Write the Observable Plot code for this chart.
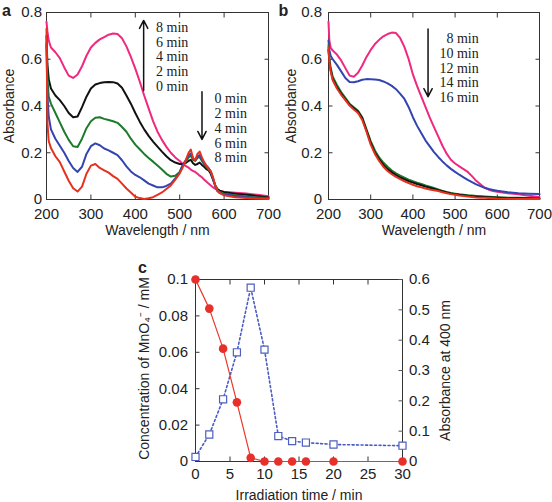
<!DOCTYPE html>
<html><head><meta charset="utf-8">
<script src="https://cdn.jsdelivr.net/npm/d3@7"></script>
<script src="https://cdn.jsdelivr.net/npm/@observablehq/plot@0.6"></script>
<style>
body{margin:0;background:#fff;}
#fig{position:relative;width:552px;height:502px;overflow:hidden;background:#fff;}
#fig > div{position:absolute;}
#fig svg{overflow:visible;background:transparent;}
</style></head><body>
<div id="fig"><div id="pa" style="left:0;top:0"></div><div id="pb" style="left:276px;top:0"></div><div id="pc" style="left:100px;top:250px"></div></div>
<script>
// ---------- Panel a data (0–8 min) ----------
const wlA = [200,202,205,210,220,230,240,250,260,270,280,290,300,310,320,330,340,350,360,370,380,390,400,410,420,430,440,450,460,470,480,490,500,505,510,515,520,525,530,535,540,545,550,555,560,565,570,575,580,585,590,600,625,650,675,700];
const a8 = [.76,.72,.68,.65,.63,.605,.565,.53,.52,.535,.57,.615,.65,.67,.685,.695,.705,.71,.708,.69,.655,.61,.56,.505,.445,.39,.335,.29,.255,.225,.2,.18,.165,.155,.148,.142,.136,.128,.122,.118,.11,.102,.095,.085,.077,.068,.06,.052,.046,.04,.036,.033,.029,.026,.02,.014];
const a6 = [.70,.58,.515,.475,.445,.425,.40,.37,.352,.355,.395,.44,.475,.492,.498,.502,.503,.502,.496,.478,.445,.41,.37,.333,.30,.272,.248,.226,.205,.185,.168,.158,.152,.152,.153,.158,.165,.17,.155,.148,.152,.158,.148,.14,.13,.125,.11,.085,.06,.045,.038,.031,.025,.02,.015,.009];
const a4 = [.67,.52,.44,.41,.37,.33,.29,.255,.228,.225,.26,.305,.335,.35,.352,.345,.34,.335,.328,.31,.29,.26,.235,.215,.195,.178,.162,.145,.128,.11,.098,.102,.118,.14,.155,.165,.18,.188,.17,.165,.178,.182,.165,.15,.14,.13,.12,.09,.06,.04,.032,.025,.018,.013,.009,.006];
const a2 = [.66,.45,.355,.30,.26,.23,.20,.165,.135,.118,.14,.195,.228,.24,.232,.218,.21,.2,.19,.168,.142,.12,.105,.095,.082,.068,.06,.052,.052,.058,.068,.09,.115,.14,.158,.172,.19,.197,.175,.168,.185,.19,.17,.155,.145,.135,.12,.09,.058,.035,.028,.022,.015,.01,.007,.004];
const a0 = [.73,.33,.25,.22,.185,.16,.12,.08,.048,.034,.055,.11,.145,.152,.135,.125,.115,.1,.088,.068,.047,.03,.012,.006,.002,.005,.01,.02,.03,.045,.06,.085,.112,.13,.15,.175,.2,.214,.178,.168,.195,.205,.18,.16,.145,.13,.12,.095,.06,.038,.028,.018,.01,.006,.004,.002];
const namesA = ["8 min","6 min","4 min","2 min","0 min"];
const colorsA = ["#f0287f","#111111","#1d7a2a","#3344b0","#e5321f"];
const seriesA = [a8,a6,a4,a2,a0];
const legendUp = ["8 min","6 min","4 min","2 min","0 min"];
const legendDown = ["0 min","2 min","4 min","6 min","8 min"];

// ---------- Panel b data (8–16 min) ----------
const wlB = [200,202,205,210,220,230,240,250,260,270,280,290,300,310,320,330,340,350,360,370,380,390,400,410,420,430,440,450,460,470,480,490,500,510,520,530,540,550,560,570,580,590,600,625,650,675,700];
const b8 = [.76,.68,.65,.637,.62,.595,.562,.53,.525,.542,.573,.61,.64,.665,.683,.698,.708,.714,.712,.69,.652,.6,.535,.485,.44,.395,.35,.31,.27,.23,.196,.17,.154,.142,.13,.118,.1,.08,.065,.05,.042,.036,.033,.027,.022,.016,.011];
const b10 = [.68,.64,.615,.60,.576,.548,.52,.503,.502,.506,.512,.515,.514,.513,.511,.505,.497,.486,.472,.452,.43,.395,.352,.315,.283,.252,.227,.203,.182,.163,.146,.131,.118,.106,.095,.084,.074,.065,.057,.05,.045,.041,.037,.031,.027,.025,.023];
const b12 = [.66,.6,.565,.525,.49,.46,.435,.41,.395,.38,.352,.3,.25,.21,.18,.158,.14,.124,.112,.102,.093,.085,.078,.072,.067,.06,.055,.049,.043,.037,.032,.028,.025,.022,.02,.018,.017,.015,.014,.013,.012,.011,.01,.008,.007,.006,.005];
const b14 = [.64,.59,.555,.515,.48,.452,.428,.405,.39,.375,.347,.295,.242,.2,.172,.148,.13,.116,.104,.094,.086,.078,.072,.066,.061,.055,.05,.045,.04,.035,.03,.026,.023,.02,.018,.016,.014,.013,.012,.011,.01,.009,.008,.006,.005,.004,.003];
const b16 = [.65,.59,.55,.51,.475,.448,.425,.402,.385,.37,.34,.29,.235,.195,.165,.14,.122,.108,.097,.087,.078,.07,.063,.057,.052,.047,.043,.04,.036,.031,.027,.023,.02,.017,.015,.013,.011,.009,.008,.007,.006,.005,.004,.003,.002,.002,.002];
const namesB = ["8 min","10 min","12 min","14 min","16 min"];
const colorsB = ["#f0287f","#3344b0","#1d7a2a","#111111","#e5321f"];
const seriesB = [b8,b10,b12,b14,b16];

// ---------- Panel c data ----------
const timeC = [0,2,4,6,8,10,12,14,16,20,30];
const concC = [0.1,0.084,0.062,0.0325,0.002,0,0,0,0,0,0];
const abs400C = [0.015,0.089,0.205,0.36,0.573,0.369,0.084,0.067,0.0625,0.056,0.052];

// ---------- Tick values ----------
const wlTicks = [200,300,400,500,600,700];
const absTicks = [0,0.2,0.4,0.6,0.8];
const timeTicks = [0,5,10,15,20,25,30];
const concTicks = [0,0.02,0.04,0.06,0.08,0.1];
const abs400Ticks = [0,0.1,0.2,0.3,0.4,0.5,0.6];
const leftMax = 0.1, rightMax = 0.6, ratio = rightMax / leftMax;

const SANS = "'Liberation Sans', Arial, Helvetica, sans-serif";
const SERIF = "'Liberation Serif', 'Times New Roman', serif";
const TS = -4.5;
const C = {textAnchor: "middle", lineAnchor: "middle", fill: "#222"};

function tidy(wl, series, names){
  return series.flatMap((vals, k) => wl.map((w, i) => ({wl: w, abs: vals[i], key: names[k]})));
}
function frameAxes(xt, yt, xfmt, yfmt, xPad, yPad, yRight){
  const m = [
    Plot.frame({stroke: "#333", strokeWidth: 1}),
    Plot.axisX(xt, {anchor: "bottom", tickSize: TS, tickPadding: xPad, tickFormat: xfmt, label: null, stroke: "#333"}),
    Plot.axisX(xt, {anchor: "top", tickSize: TS, tickFormat: () => "", label: null, stroke: "#333"}),
    Plot.axisY(yt, {anchor: "left", tickSize: TS, tickPadding: yPad, tickFormat: yfmt, label: null, stroke: "#333"})
  ];
  if (!yRight) m.push(Plot.axisY(yt, {anchor: "right", tickSize: TS, tickFormat: () => "", label: null, stroke: "#333"}));
  return m;
}
const fmt1 = d => d === 0 ? "0" : d.toFixed(1);
const arrowOpts = {x1: "x1", y1: "y1", x2: "x2", y2: "y2", stroke: "#111", strokeWidth: 1.5, headLength: 9, headAngle: 55};

// ---------- Panel a ----------
const dataA = tidy(wlA, seriesA, namesA);
const pa = Plot.plot({
  width: 276, height: 250,
  marginLeft: 46, marginRight: 8, marginTop: 12, marginBottom: 51,
  style: {fontFamily: SANS, fontSize: "15px", color: "#222", background: "transparent", overflow: "visible"},
  x: {domain: [200, 700]},
  y: {domain: [0, 0.8]},
  color: {domain: namesA, range: colorsA},
  marks: [
    ...frameAxes(wlTicks, absTicks, d => d, fmt1, 13, 9),
    Plot.line(dataA, {x: "wl", y: "abs", z: "key", stroke: "key", strokeWidth: 2}),
    Plot.text(legendUp, {x: 446.7, y: (d, i) => 0.737 - i * 0.0635, text: d => d, textAnchor: "start", fontFamily: SERIF, fontSize: 14, fill: "#222"}),
    Plot.text(legendDown, {x: 578.6, y: (d, i) => 0.43 - i * 0.0628, text: d => d, textAnchor: "start", fontFamily: SERIF, fontSize: 14, fill: "#222"}),
    Plot.arrow([{x1: 418.8, y1: 0.466, x2: 418.8, y2: 0.766}], arrowOpts),
    Plot.arrow([{x1: 550.2, y1: 0.461, x2: 550.2, y2: 0.257}], arrowOpts),
    Plot.text(["Absorbance"], {...C, frameAnchor: "left", dx: -37, rotate: -90, fontSize: 14}),
    Plot.text(["Wavelength / nm"], {...C, frameAnchor: "bottom", dy: 31, fontSize: 14}),
    Plot.text(["a"], {...C, frameAnchor: "top-left", dx: -40, dy: -2, fontSize: 16, fontWeight: "bold"})
  ]
});
document.getElementById("pa").append(pa);

// ---------- Panel b ----------
const dataB = tidy(wlB, seriesB, namesB);
const pb = Plot.plot({
  width: 276, height: 250,
  marginLeft: 52, marginRight: 13, marginTop: 12, marginBottom: 51,
  style: {fontFamily: SANS, fontSize: "15px", color: "#222", background: "transparent", overflow: "visible"},
  x: {domain: [200, 700]},
  y: {domain: [0, 0.8]},
  color: {domain: namesB, range: colorsB},
  marks: [
    ...frameAxes(wlTicks, absTicks, d => d, fmt1, 13, 11),
    Plot.line(dataB, {x: "wl", y: "abs", z: "key", stroke: "key", strokeWidth: 2}),
    Plot.text(namesB, {x: 556, y: (d, i) => 0.687 - i * 0.0628, text: d => d, textAnchor: "end", fontFamily: SERIF, fontSize: 14, fill: "#222"}),
    Plot.arrow([{x1: 435.9, y1: 0.729, x2: 435.9, y2: 0.44}], arrowOpts),
    Plot.text(["Absorbance"], {...C, frameAnchor: "left", dx: -37, rotate: -90, fontSize: 14}),
    Plot.text(["Wavelength / nm"], {...C, frameAnchor: "bottom", dy: 31, fontSize: 14}),
    Plot.text(["b"], {...C, frameAnchor: "top-left", dx: -45, dy: -2, fontSize: 16, fontWeight: "bold"})
  ]
});
document.getElementById("pb").append(pb);

// ---------- Panel c ----------
const tableC = timeC.map((t, i) => ({t, conc: concC[i], abs: abs400C[i]}));
const pc = Plot.plot({
  width: 452, height: 252,
  marginLeft: 95, marginRight: 150, marginTop: 29, marginBottom: 41,
  style: {fontFamily: SANS, fontSize: "15px", color: "#222", background: "transparent", overflow: "visible"},
  x: {domain: [0, 30]},
  y: {domain: [0, leftMax]},
  marks: [
    ...frameAxes(timeTicks, concTicks, d => d, d => d === 0 ? "0" : String(+d.toFixed(2)), 11, 12, true),
    Plot.axisY(abs400Ticks.map(v => v / ratio), {anchor: "right", tickSize: TS, tickPadding: 11, tickFormat: d => d === 0 ? "0" : (d * ratio).toFixed(1), label: null, stroke: "#555"}),
    Plot.line(tableC, {x: "t", y: d => d.abs / ratio, stroke: "#4a5cc4", strokeWidth: 1.6, strokeDasharray: "2,2.5"}),
    Plot.line(tableC, {x: "t", y: "conc", stroke: "#e8392b", strokeWidth: 1.2}),
    Plot.dot(tableC, {x: "t", y: "conc", r: 4.3, fill: "#e8302a", stroke: "none"}),
    Plot.dot(tableC, {x: "t", y: d => d.abs / ratio, r: 4, symbol: "square", fill: "white", stroke: "#4d5fc0", strokeWidth: 1.2}),
    Plot.text(["Concentration of MnO₄⁻ / mM"], {...C, frameAnchor: "left", dx: -51, dy: -2, rotate: -90, fontSize: 14}),
    Plot.text(["Absorbance at 400 nm"], {...C, frameAnchor: "right", dx: 43, rotate: -90, fontSize: 14}),
    Plot.text(["Irradiation time / min"], {...C, frameAnchor: "bottom", dy: 34, fontSize: 14}),
    Plot.text(["c"], {...C, frameAnchor: "top-left", dx: -53, dy: -12, fontSize: 16, fontWeight: "bold"})
  ]
});
document.getElementById("pc").append(pc);
</script>
</body></html>
